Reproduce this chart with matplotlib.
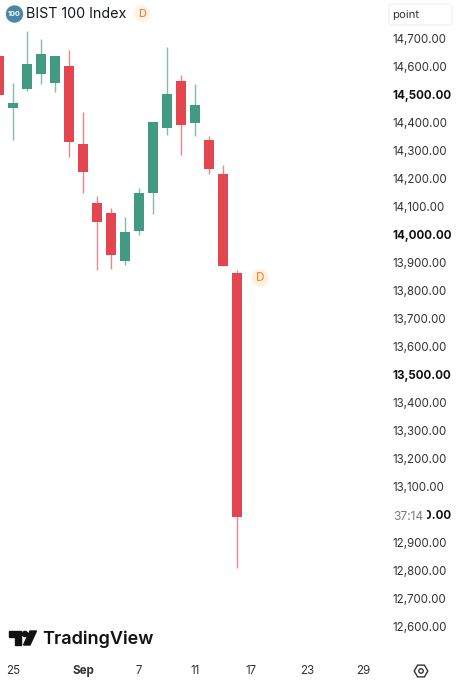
import math
import matplotlib
matplotlib.use('Agg')
import matplotlib.pyplot as plt
from matplotlib.patches import Circle, Polygon, RegularPolygon, FancyBboxPatch

plt.rcParams['font.family'] = ['Inter', 'DejaVu Sans']

# daily candles, bar 0 is cut by the left edge
opens = [14636, 14450, 14518, 14572, 14540, 14600, 14322, 14112, 14076, 13905, 14012, 14147,
         14379, 14547, 14397, 14336, 14215, 13862]
closes = [14497, 14468, 14607, 14643, 14636, 14329, 14222, 14044, 13926, 14008, 14147, 14401,
          14500, 14390, 14461, 14233, 13887, 12992]
highs = [14636, 14540, 14725, 14696, 14636, 14657, 14436, 14137, 14094, 14062, 14165, 14401,
         14668, 14568, 14536, 14351, 14247, 13873]
lows = [14497, 14336, 14511, 14536, 14507, 14276, 14147, 13873, 13876, 13891, 13998, 14073,
        14354, 14283, 14351, 14215, 13887, 12811]

price_ticks = [12600, 12700, 12800, 12900, 13000, 13100, 13200, 13300, 13400, 13500, 13600,
               13700, 13800, 13900, 14000, 14100, 14200, 14300, 14400, 14500, 14600, 14700]
bold_prices = [13000, 13500, 14000, 14500]
date_pos = [1, 6, 10, 14, 18, 22, 26]
date_labels = ['25', 'Sep', '7', '11', '17', '23', '29']

UP = '#429A82'
DOWN = '#E4464F'

fig = plt.figure(figsize=(4.57, 6.8), dpi=100)
ax = fig.add_axes([0, 0, 1, 1])

for i in range(len(opens)):
    col = UP if closes[i] >= opens[i] else DOWN
    ax.vlines(i, lows[i], highs[i], color=col, lw=1.0, alpha=0.65, zorder=1)
    ax.bar(i, abs(closes[i] - opens[i]), bottom=min(opens[i], closes[i]), width=0.76,
           color=col, zorder=2)

ax.set_xlim(1 / 14, 458 / 14)
ax.set_ylim(12411, 14835.5)
for s in ax.spines.values():
    s.set_visible(False)

ax.yaxis.tick_right()
ax.set_yticks(price_ticks)
ax.set_yticklabels([f'{p:,.2f}' for p in price_ticks])
ax.tick_params(axis='y', length=0, pad=-46.5, labelsize=8.3, labelcolor='#333333')
for lab, p in zip(ax.get_yticklabels(), price_ticks):
    if p in bold_prices:
        lab.set_fontweight('bold')
        lab.set_color('#111111')

ax.set_xticks(date_pos)
ax.set_xticklabels(date_labels)
ax.tick_params(axis='x', length=0, pad=-11, labelsize=8.3, labelcolor='#333333')
ax.get_xticklabels()[1].set_fontweight('bold')

# overlay in pixel coords for the tradingview furniture
deco = fig.add_axes([0, 0, 1, 1], zorder=5)
deco.set_xlim(0, 457)
deco.set_ylim(680, 0)
deco.axis('off')
deco.patch.set_alpha(0)

deco.add_patch(Circle((14.5, 14), 8, color='#4A87A6'))
deco.text(14.5, 14.2, '100', ha='center', va='center', color='white', fontsize=5.2, fontweight='bold')
deco.text(26.5, 14, 'BIST 100 Index', ha='left', va='center', color='#131722', fontsize=10.3)
deco.add_patch(Circle((142, 13.5), 7.5, color='#FFF3E6'))
deco.text(142, 13.8, 'D', ha='center', va='center', color='#E8833A', fontsize=8, fontweight='medium')

deco.add_patch(Circle((260, 278), 8, color='#FFF0DF'))
deco.text(260, 278.3, 'D', ha='center', va='center', color='#F0922E', fontsize=8.5, fontweight='medium')

deco.add_patch(FancyBboxPatch((389, 4), 63, 21, boxstyle='round,pad=0,rounding_size=3',
                              fc='white', ec='#EFEFEF', lw=0.8))
deco.text(392, 15, 'point', ha='left', va='center', color='#333333', fontsize=8.2)

deco.text(393, 517, '37:14', ha='left', va='center', color='#787B86', fontsize=8.6,
          bbox=dict(fc='white', ec='none', pad=2.5))

# logo
deco.add_patch(Polygon([(9, 631), (21, 631), (21, 645), (14.5, 645), (14.5, 636.5), (9, 636.5)], color='#111111'))
deco.add_patch(Circle((25, 634), 2.6, color='#111111'))
deco.add_patch(Polygon([(30, 631), (36.5, 631), (30, 645), (23.5, 645)], color='#111111'))
deco.text(42.5, 639, 'TradingView', ha='left', va='center', color='#111111', fontsize=13, fontweight='semibold')

# settings icon
deco.add_patch(RegularPolygon((421, 671), 6, radius=6.8, orientation=math.pi / 6, fc='none', ec='#333333', lw=1))
deco.add_patch(Circle((421, 671), 2.2, fc='none', ec='#333333', lw=1))

fig.savefig('out.png', dpi=100)
